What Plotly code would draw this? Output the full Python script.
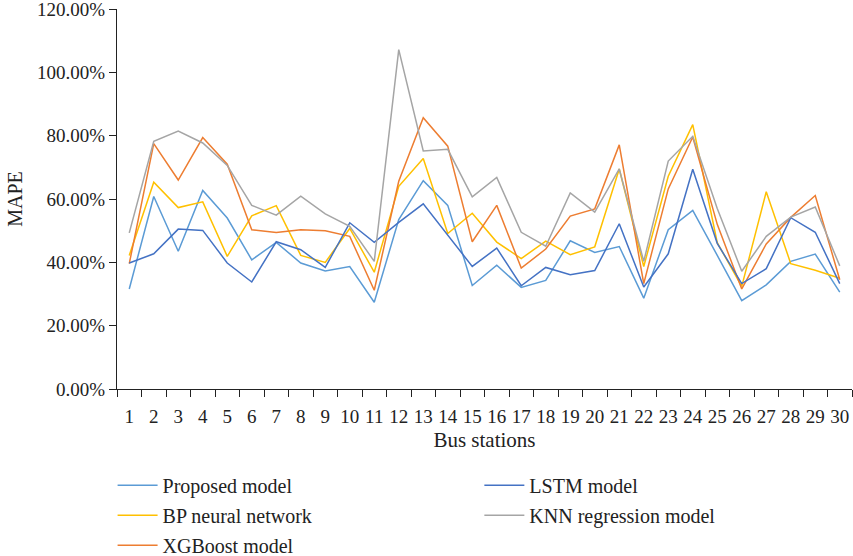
import plotly.graph_objects as go

stations = list(range(1, 31))
proposed = [31.6, 60.8, 43.5, 62.7, 54.0, 40.8, 46.3, 39.8, 37.3, 38.7,
            27.4, 53.5, 65.8, 58.0, 32.7, 39.1, 32.1, 34.3, 46.8, 43.1,
            45.0, 28.7, 50.3, 56.4, 42.2, 27.9, 32.9, 40.3, 42.6, 30.6]
lstm = [39.8, 42.7, 50.5, 50.1, 39.8, 33.8, 46.5, 44.0, 38.4, 52.5,
        46.3, 52.6, 58.5, 48.7, 38.7, 44.5, 32.6, 38.4, 36.1, 37.4,
        52.2, 32.2, 42.7, 69.4, 46.0, 33.3, 38.0, 54.1, 49.5, 33.3]
bp = [42.2, 65.3, 57.3, 59.1, 41.9, 54.7, 57.9, 42.2, 40.0, 50.7,
      36.9, 64.0, 72.8, 49.1, 55.5, 46.4, 41.2, 46.7, 42.4, 44.9,
      69.5, 38.7, 67.2, 83.5, 46.2, 32.4, 62.3, 39.6, 37.5, 35.0]
knn = [49.3, 78.2, 81.5, 77.7, 70.6, 58.0, 54.9, 60.9, 55.3, 51.4,
       40.3, 107.2, 75.2, 75.7, 60.7, 66.8, 49.5, 45.1, 61.9, 55.9,
       69.5, 40.3, 72.0, 79.8, 57.0, 37.2, 48.2, 54.3, 57.5, 38.9]
xgb = [39.6, 77.5, 66.0, 79.4, 71.0, 50.3, 49.4, 50.3, 50.0, 48.2,
       31.2, 65.6, 85.7, 76.7, 46.5, 58.0, 38.2, 44.2, 54.6, 56.9,
       77.1, 33.3, 63.2, 79.6, 52.0, 31.6, 45.8, 54.2, 61.1, 34.5]
y_ticks = [0, 20, 40, 60, 80, 100, 120]

FONT = "Liberation Serif"
series = [
    ("Proposed model", proposed, "#5B9BD5", "legend"),
    ("BP neural network", bp, "#FFC000", "legend"),
    ("XGBoost model", xgb, "#ED7D31", "legend"),
    ("LSTM model", lstm, "#4472C4", "legend2"),
    ("KNN regression model", knn, "#A5A5A5", "legend2"),
]

fig = go.Figure()
for name, vals, color, lg in series:
    fig.add_trace(go.Scatter(x=stations, y=vals, name=name, mode="lines",
                             line=dict(color=color, width=1.5), legend=lg,
                             legendgroup=name))

legend_common = dict(orientation="v", yanchor="top", xanchor="left",
                     font=dict(family=FONT, size=20, color="#222"),
                     itemwidth=40, tracegroupgap=1, bgcolor="rgba(0,0,0,0)")
fig.update_layout(
    width=853, height=556,
    margin=dict(l=117, r=1, t=9, b=167, autoexpand=False),
    paper_bgcolor="white", plot_bgcolor="white",
    font=dict(family=FONT, size=19, color="#222"),
    showlegend=True,
    legend=dict(x=-0.006, y=-0.202, **legend_common),
    legend2=dict(x=0.493, y=-0.202, **legend_common),
    xaxis=dict(range=[0.5, 30.5], tickvals=stations, ticktext=[str(s) for s in stations],
               ticks="", showline=True, linecolor="#222", linewidth=1.3,
               showgrid=False, zeroline=False, ticklabelstandoff=10,
               automargin=False, ticklabeloverflow="allow",
               tickfont=dict(family=FONT, size=19, color="#222"),
               minor=dict(tick0=0.5, dtick=1, ticks="outside", ticklen=7,
                          tickcolor="#222", tickwidth=1.3, showgrid=False),
               title=dict(text="Bus stations", font=dict(family=FONT, size=21, color="#222"),
                          standoff=6)),
    yaxis=dict(range=[0, 120.02], tickvals=y_ticks,
               ticktext=[f"{v:.2f}%" for v in y_ticks],
               ticks="outside", ticklen=7, tickcolor="#222", tickwidth=1.3,
               showline=True, linecolor="#222", linewidth=1.3,
               showgrid=False, zeroline=False,
               automargin=False, ticklabeloverflow="allow",
               tickfont=dict(family=FONT, size=19, color="#222"),
               title=dict(text="MAPE", font=dict(family=FONT, size=20, color="#222"),
                          standoff=8)),
)
fig.write_html("out.html", config={"displayModeBar": False},
               post_script="document.body.style.margin='0';document.body.style.overflow='hidden';")
